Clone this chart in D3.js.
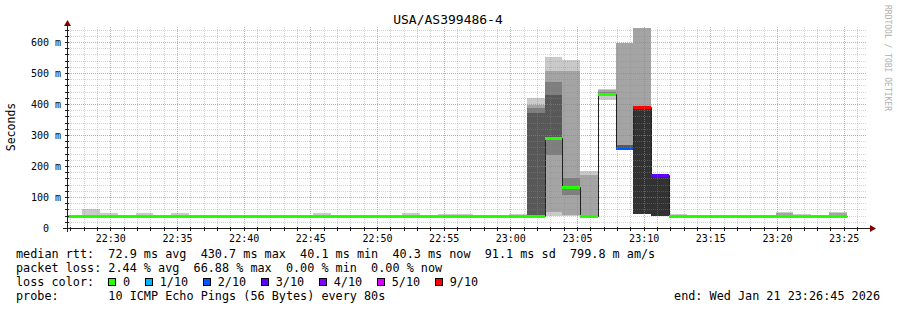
<!DOCTYPE html>
<html>
<head>
<meta charset="utf-8">
<script src="https://cdn.jsdelivr.net/npm/d3@7"></script>
<style>
  body { margin: 0; background: #fff; }
  text { font-family: "DejaVu Sans Mono", monospace; white-space: pre; }
</style>
</head>
<body>
<div id="chart"></div>
<script>
// ---- data ----
var title = "USA/AS399486-4";
var viewStart = new Date(2026, 0, 21, 22, 26, 45);
var viewEnd = new Date(2026, 0, 21, 23, 26, 45);
var stepStart = new Date(2026, 0, 21, 22, 26, 34); // first rrd step
var stepSec = 80;

// median rtt per step (ms)
var median = [
  40.3, 40.3, 40.3, 40.3, 40.3, 40.3, 40.3, 40.3, 40.3, 40.3,
  40.3, 40.3, 40.3, 40.3, 40.3, 40.3, 40.3, 40.3, 40.3, 40.3,
  40.3, 40.3, 40.3, 40.3, 40.3, 40.3, 40.3, 290, 131, 40.3,
  433, 258, 390, 171, 40.3, 40.3, 40.3, 40.3, 40.3, 40.3,
  40.3, 40.3, 40.3, 40.3
];
// lost pings per step (of 10)
var loss = [
  0, 0, 0, 0, 0, 0, 0, 0, 0, 0,
  0, 0, 0, 0, 0, 0, 0, 0, 0, 0,
  0, 0, 0, 0, 0, 0, 0, 0, 0, 0,
  0, 2, 9, 3, 0, 0, 0, 0, 0, 0,
  0, 0, 0, 0
];
// 10 sorted pings per step (ms), null = lost
var pings = [
  [40.1, 40.1, 40.2, 40.2, 40.3, 40.3, 40.4, 40.4, 40.5, 40.8],
  [40.0, 40.1, 40.2, 40.2, 40.3, 40.3, 40.4, 40.5, 41.0, 62.0],
  [40.1, 40.1, 40.2, 40.2, 40.3, 40.3, 40.4, 40.5, 40.9, 49.0],
  [40.0, 40.1, 40.1, 40.2, 40.2, 40.3, 40.3, 40.4, 40.5, 40.9],
  [40.1, 40.1, 40.2, 40.2, 40.3, 40.3, 40.4, 40.4, 40.8, 49.0],
  [40.1, 40.2, 40.2, 40.3, 40.3, 40.3, 40.4, 40.4, 40.6, 41.0],
  [40.0, 40.1, 40.2, 40.2, 40.3, 40.3, 40.4, 40.5, 40.9, 49.0],
  [40.1, 40.1, 40.2, 40.2, 40.2, 40.3, 40.3, 40.4, 40.5, 40.7],
  [40.1, 40.2, 40.2, 40.3, 40.3, 40.3, 40.4, 40.4, 40.6, 40.9],
  [40.0, 40.1, 40.1, 40.2, 40.3, 40.3, 40.3, 40.4, 40.5, 40.8],
  [40.1, 40.1, 40.2, 40.2, 40.3, 40.3, 40.4, 40.4, 40.5, 40.9],
  [40.1, 40.2, 40.2, 40.2, 40.3, 40.3, 40.3, 40.4, 40.6, 41.0],
  [40.0, 40.1, 40.2, 40.2, 40.3, 40.3, 40.4, 40.4, 40.5, 40.7],
  [40.1, 40.1, 40.2, 40.3, 40.3, 40.3, 40.4, 40.5, 40.6, 40.9],
  [40.1, 40.1, 40.2, 40.2, 40.3, 40.3, 40.4, 40.5, 40.9, 49.0],
  [40.0, 40.1, 40.2, 40.2, 40.2, 40.3, 40.3, 40.4, 40.5, 40.8],
  [40.1, 40.1, 40.2, 40.2, 40.3, 40.3, 40.4, 40.4, 40.6, 40.9],
  [40.1, 40.2, 40.2, 40.3, 40.3, 40.3, 40.4, 40.4, 40.5, 40.7],
  [40.0, 40.1, 40.1, 40.2, 40.3, 40.3, 40.3, 40.4, 40.6, 41.0],
  [40.1, 40.1, 40.2, 40.2, 40.3, 40.3, 40.4, 40.5, 40.9, 49.0],
  [40.1, 40.1, 40.2, 40.2, 40.3, 40.3, 40.3, 40.4, 40.5, 40.8],
  [40.0, 40.1, 40.2, 40.2, 40.3, 40.3, 40.4, 40.5, 40.8, 46.0],
  [40.1, 40.1, 40.2, 40.2, 40.3, 40.3, 40.4, 40.4, 40.8, 46.0],
  [40.1, 40.2, 40.2, 40.3, 40.3, 40.3, 40.4, 40.4, 40.6, 40.9],
  [40.0, 40.1, 40.1, 40.2, 40.2, 40.3, 40.3, 40.4, 40.5, 40.8],
  [40.1, 40.1, 40.2, 40.2, 40.3, 40.3, 40.4, 40.5, 40.8, 46.0],
  [38.0, 39.0, 39.5, 40.0, 40.0, 40.5, 371, 387, 398, 419],
  [40.0, 53.0, 234, 285, 288, 292, 430, 470, 505, 553],
  [40.0, 43.0, 107, 126, 129, 133, 134, 161, 505, 543],
  [40.0, 40.0, 40.0, 40.0, 40.0, 40.5, 40.5, 41.0, 172, 183],
  [412, 425, 430, 431, 432, 434, 436, 438, 445, 448],
  [null, 256, 257, 258, 259, 262, 267, 269, 597, null],
  [null, 45.0, 45.0, 45.0, 45.0, 390, 390, 390, 645, null],
  [null, 40.0, 40.0, 40.0, 40.0, 171, 171, 171, 171, null],
  [40.1, 40.1, 40.2, 40.2, 40.3, 40.3, 40.4, 40.5, 40.8, 45.0],
  [40.0, 40.1, 40.1, 40.2, 40.2, 40.3, 40.3, 40.4, 40.5, 40.8],
  [40.1, 40.1, 40.2, 40.2, 40.3, 40.3, 40.4, 40.4, 40.6, 40.9],
  [40.1, 40.2, 40.2, 40.3, 40.3, 40.3, 40.4, 40.4, 40.5, 40.7],
  [40.0, 40.1, 40.1, 40.2, 40.3, 40.3, 40.3, 40.4, 40.6, 41.0],
  [40.1, 40.1, 40.2, 40.2, 40.3, 40.3, 40.4, 40.4, 40.5, 40.8],
  [40.1, 40.1, 40.2, 40.2, 40.3, 40.3, 40.4, 40.6, 50.0, 52.0],
  [40.1, 40.1, 40.2, 40.2, 40.3, 40.3, 40.4, 40.5, 40.8, 44.0],
  [40.0, 40.1, 40.2, 40.2, 40.3, 40.3, 40.3, 40.4, 40.5, 40.8],
  [40.1, 40.1, 40.2, 40.2, 40.3, 40.3, 40.4, 40.6, 49.0, 51.0]
];

var yTicks = [0, 100, 200, 300, 400, 500, 600];
var lossLabels = ["0", "1/10", "2/10", "3/10", "4/10", "5/10", "9/10"];
var lossSteps = [0, 1, 2, 3, 4, 5, 9];
var lossColors = ["#26ff00", "#00b8ff", "#0059ff", "#5e00ff", "#7e00ff", "#dd00ff", "#ff0000"];
var statLines = [
  "median rtt:  72.9 ms avg  430.7 ms max  40.1 ms min  40.3 ms now  91.1 ms sd  799.8 m am/s",
  "packet loss: 2.44 % avg  66.88 % max  0.00 % min  0.00 % now",
  "loss color:",
  "probe:       10 ICMP Echo Pings (56 Bytes) every 80s"
];
var endText = "end: Wed Jan 21 23:26:45 2026";
var watermark = "RRDTOOL / TOBI OETIKER";

// ---- layout ----
var svgW = 897, svgH = 310;
var plotL = 67, plotR = 867, plotB = 228, plotT = 26.5;
var smokeGreys = ["#cacaca", "#a4a4a4", "#7e7e7e", "#585858", "#323232"];

var svg = d3.select("#chart").append("svg")
  .attr("width", svgW)
  .attr("height", svgH);

var x = d3.scaleTime().domain([viewStart, viewEnd]).range([plotL, plotR]);
var y = d3.scaleLinear().domain([0, 650]).range([plotB, plotT]);

var steps = pings.map(function (p, i) {
  var t0 = new Date(stepStart.getTime() + i * stepSec * 1000);
  var t1 = new Date(t0.getTime() + stepSec * 1000);
  return { t0: t0, t1: t1, p: p, med: median[i], loss: loss[i] };
});

function lossColor(l) {
  for (var i = 0; i < lossSteps.length; i++) {
    if (l <= lossSteps[i]) return lossColors[i];
  }
  return lossColors[lossColors.length - 1];
}

svg.append("defs").append("clipPath").attr("id", "plotclip")
  .append("rect")
  .attr("x", plotL).attr("y", plotT - 2)
  .attr("width", plotR - plotL).attr("height", plotB - plotT + 2);

var plot = svg.append("g").attr("clip-path", "url(#plotclip)");

// smoke: band b spans ping[b] .. ping[9-b], inner bands drawn on top
for (var b = 0; b < 5; b++) {
  plot.append("g")
    .attr("shape-rendering", "crispEdges")
    .selectAll("rect")
    .data(steps.filter(function (d) { return d.p[b] !== null && d.p[9 - b] !== null; }))
    .enter()
    .append("rect")
    .attr("x", d => Math.round(x(d.t0)))
    .attr("width", d => Math.round(x(d.t1)) - Math.round(x(d.t0)))
    .attr("y", d => Math.round(y(d.p[9 - b])))
    .attr("height", d => Math.max(0, Math.round(y(d.p[b])) - Math.round(y(d.p[9 - b]))))
    .attr("fill", smokeGreys[b]);
}

// median line (dark)
var medPts = steps.map(d => ({ t: d.t0, v: d.med }));
medPts.push({ t: steps[steps.length - 1].t1, v: steps[steps.length - 1].med });
plot.append("path")
  .datum(medPts)
  .attr("fill", "none")
  .attr("stroke", "#202020")
  .attr("stroke-width", 1)
  .attr("d", d3.line()
    .x(d => Math.round(x(d.t)) + 0.5)
    .y(d => Math.round(y(d.v)) + 0.5)
    .curve(d3.curveStepAfter));

// median coloured by loss
plot.append("g")
  .attr("shape-rendering", "crispEdges")
  .selectAll("rect")
  .data(steps)
  .enter()
  .append("rect")
  .attr("x", d => Math.round(x(d.t0)))
  .attr("width", d => Math.round(x(d.t1)) - Math.round(x(d.t0)))
  .attr("y", d => Math.round(y(d.med)) - 1)
  .attr("height", 3)
  .attr("fill", d => lossColor(d.loss));

// ---- grid (on top of data, like rrdtool) ----
var grid = svg.append("g").attr("shape-rendering", "crispEdges");
var minorY = d3.range(0, 641, 20).filter(v => v % 100 !== 0);
grid.selectAll(".hmin").data(minorY).enter().append("line")
  .attr("x1", plotL).attr("x2", plotR)
  .attr("y1", d => Math.round(y(d)) + 0.5).attr("y2", d => Math.round(y(d)) + 0.5)
  .attr("stroke", "rgba(140,140,140,0.38)").attr("stroke-dasharray", "1,1");
var minuteTicks = x.ticks(d3.timeMinute.every(1));
grid.selectAll(".vmin").data(minuteTicks.filter(t => t.getMinutes() % 5 !== 0)).enter().append("line")
  .attr("x1", d => Math.round(x(d)) + 0.5).attr("x2", d => Math.round(x(d)) + 0.5)
  .attr("y1", plotT).attr("y2", plotB)
  .attr("stroke", "rgba(140,140,140,0.38)").attr("stroke-dasharray", "1,1");
grid.selectAll(".hmaj").data(yTicks.slice(1)).enter().append("line")
  .attr("x1", plotL).attr("x2", plotR)
  .attr("y1", d => Math.round(y(d)) + 0.5).attr("y2", d => Math.round(y(d)) + 0.5)
  .attr("stroke", "rgba(238,96,96,0.65)").attr("stroke-dasharray", "1,1");
var fiveTicks = x.ticks(d3.timeMinute.every(5));
grid.selectAll(".vmaj").data(fiveTicks).enter().append("line")
  .attr("x1", d => Math.round(x(d)) + 0.5).attr("x2", d => Math.round(x(d)) + 0.5)
  .attr("y1", plotT).attr("y2", plotB)
  .attr("stroke", "rgba(238,96,96,0.65)").attr("stroke-dasharray", "1,1");

// ---- axes ----
var axis = svg.append("g").attr("shape-rendering", "crispEdges");
axis.append("line").attr("x1", 63).attr("x2", 870)
  .attr("y1", plotB + 0.5).attr("y2", plotB + 0.5).attr("stroke", "#202020");
axis.append("line").attr("x1", plotL + 0.5).attr("x2", plotL + 0.5)
  .attr("y1", plotB + 4).attr("y2", 23).attr("stroke", "#202020");
axis.selectAll(".xt").data(minuteTicks).enter().append("line")
  .attr("x1", d => Math.round(x(d)) + 0.5).attr("x2", d => Math.round(x(d)) + 0.5)
  .attr("y1", plotB - 1).attr("y2", plotB + 3).attr("stroke", "#202020");
axis.selectAll(".yt").data(d3.range(0, 641, 20)).enter().append("line")
  .attr("x1", plotL - 2).attr("x2", plotL + 2)
  .attr("y1", d => Math.round(y(d)) + 0.5).attr("y2", d => Math.round(y(d)) + 0.5)
  .attr("stroke", "#202020");
svg.append("path").attr("d", "M870,225L876,228.5L870,232Z").attr("fill", "#800000");
svg.append("path").attr("d", "M64,26L67.5,20L71,26Z").attr("fill", "#800000");

svg.selectAll(".xl").data(fiveTicks).enter().append("text")
  .attr("x", d => x(d) + 0.5).attr("y", 241.5)
  .attr("text-anchor", "middle")
  .attr("font-size", "10px")
  .attr("fill", "#000")
  .text(d3.timeFormat("%H:%M"));

svg.selectAll(".yl").data(yTicks).enter().append("text")
  .attr("x", 61).attr("y", d => y(d) + 4)
  .attr("text-anchor", "end")
  .attr("font-size", "10px")
  .attr("fill", "#000")
  .text(d => d === 0 ? "0  " : d + " m");

svg.append("text")
  .attr("transform", "translate(15,127) rotate(-90)")
  .attr("text-anchor", "middle")
  .attr("font-size", "11.5px")
  .text("Seconds");

svg.append("text")
  .attr("x", 448).attr("y", 24)
  .attr("text-anchor", "middle")
  .attr("font-size", "13px")
  .text(title);

svg.append("text")
  .attr("transform", "translate(885,5) rotate(90)")
  .attr("font-size", "8px")
  .attr("fill", "#b0b0b0")
  .text(watermark);

// ---- legend ----
var legY = [258, 272, 286, 300];
statLines.forEach(function (s, i) {
  svg.append("text").attr("x", 16).attr("y", legY[i])
    .attr("font-size", "11.8px").text(s);
});
svg.append("text").attr("x", 880).attr("y", 300)
  .attr("text-anchor", "end").attr("font-size", "11.8px").text(endText);

var lx = 108;
lossLabels.forEach(function (lab, i) {
  svg.append("rect").attr("x", lx + 0.5).attr("y", 278.5)
    .attr("width", 7).attr("height", 7)
    .attr("fill", lossColors[i]).attr("stroke", "#000")
    .attr("shape-rendering", "crispEdges");
  svg.append("text").attr("x", lx + 15).attr("y", 286)
    .attr("font-size", "11.8px").text(lab);
  lx += 15 + lab.length * 7.1 + 14.6;
});
</script>
</body>
</html>
